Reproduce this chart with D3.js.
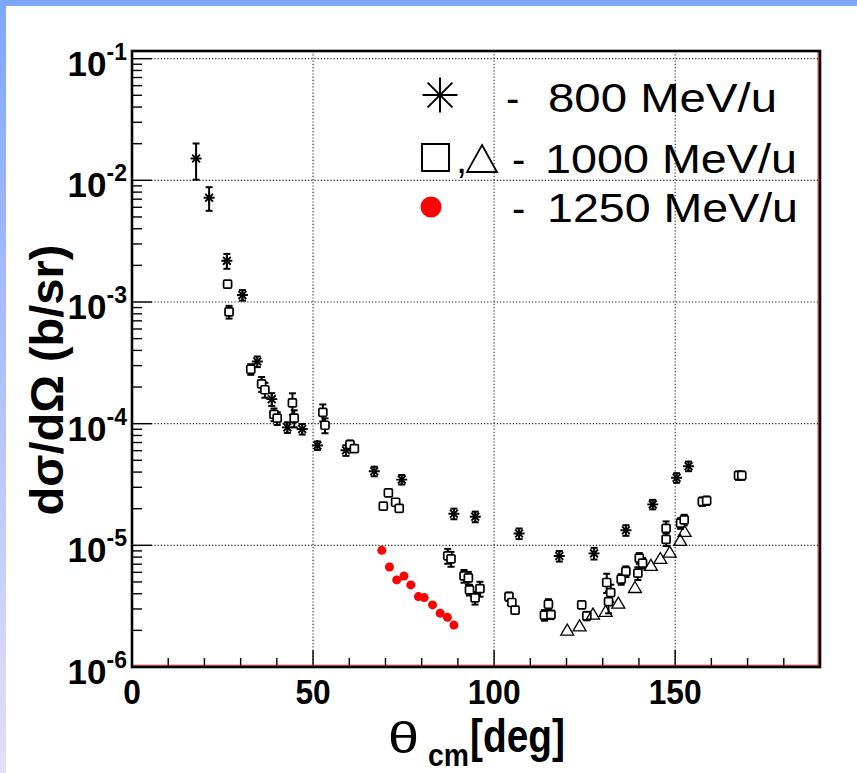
<!DOCTYPE html>
<html>
<head>
<meta charset="utf-8">
<script src="https://cdn.jsdelivr.net/npm/d3@7/dist/d3.min.js"></script>
<style>
  html, body { margin: 0; padding: 0; background: #fff; }
  svg { display: block; }
</style>
</head>
<body>
<svg id="chart" width="857" height="773"></svg>
<script>
// ---------------- data ----------------
const theta800 = [17.7, 21.3, 26.2, 30.5, 34.6, 38.6, 42.9, 47.0, 51.2, 59.1, 66.9, 74.5, 88.9, 94.8, 106.9, 118.0, 127.6, 136.4, 143.8, 150.4, 153.7];
const sigma800 = [1.51e-2, 7.2e-3, 2.18e-3, 1.14e-3, 3.24e-4, 1.59e-4, 9.33e-5, 9.04e-5, 6.61e-5, 6.04e-5, 4.06e-5, 3.47e-5, 1.82e-5, 1.72e-5, 1.25e-5, 8.17e-6, 8.59e-6, 1.33e-5, 2.17e-5, 3.59e-5, 4.47e-5];
const relErr800 = [0.33, 0.22, 0.14, 0.10, 0.10, 0.12, 0.10, 0.10, 0.08, 0.10, 0.09, 0.09, 0.10, 0.10, 0.10, 0.10, 0.11, 0.10, 0.09, 0.09, 0.09];

const thetaSq = [26.4, 26.8, 32.8, 35.8, 36.7, 39.2, 40.1, 44.3, 44.8, 52.7, 53.3, 60.2, 61.4, 69.4, 70.8, 72.8, 73.8, 87.2, 88.1, 91.7, 92.9, 93.2, 94.75, 96.1, 104.1, 104.9, 105.8, 113.9, 115.0, 115.7, 124.2, 125.6, 131.1, 131.6, 132.2, 135.1, 136.4, 139.7, 140.1, 141.0, 147.5, 147.5, 151.5, 152.5, 157.5, 158.7, 167.5, 168.4];
const sigmaSq = [1.40e-3, 8.3e-4, 2.80e-4, 2.12e-4, 1.90e-4, 1.19e-4, 1.11e-4, 1.48e-4, 1.11e-4, 1.24e-4, 9.7e-5, 6.73e-5, 6.24e-5, 2.10e-5, 2.70e-5, 2.26e-5, 2.01e-5, 8.2e-6, 7.75e-6, 5.6e-6, 5.4e-6, 4.3e-6, 3.7e-6, 4.4e-6, 3.79e-6, 3.39e-6, 2.93e-6, 2.67e-6, 3.28e-6, 2.69e-6, 3.24e-6, 2.63e-6, 4.95e-6, 3.45e-6, 4.09e-6, 5.27e-6, 6.1e-6, 5.9e-6, 7.85e-6, 7.15e-6, 1.38e-5, 1.12e-5, 1.52e-5, 1.62e-5, 2.29e-5, 2.33e-5, 3.75e-5, 3.75e-5];
const relErrSq = [0.06, 0.12, 0.10, 0.14, 0.14, 0.12, 0.12, 0.20, 0.16, 0.16, 0.14, 0.08, 0.06, 0.05, 0.05, 0.05, 0.05, 0.14, 0.14, 0.12, 0.12, 0.10, 0.12, 0.14, 0.08, 0.06, 0.06, 0.10, 0.10, 0.08, 0.06, 0.08, 0.18, 0.20, 0.16, 0.10, 0.10, 0.12, 0.10, 0.10, 0.14, 0.12, 0.10, 0.10, 0.08, 0.08, 0.08, 0.08];

const thetaTri = [120.2, 123.6, 127.3, 130.8, 134.3, 138.9, 143.3, 145.9, 148.5, 151.4, 152.6];
const sigmaTri = [2.01e-6, 2.18e-6, 2.72e-6, 2.86e-6, 3.35e-6, 4.5e-6, 6.85e-6, 7.8e-6, 8.8e-6, 1.10e-5, 1.30e-5];

const theta1250 = [69.0, 71.1, 73.1, 75.1, 77.0, 79.1, 80.7, 83.0, 85.1, 87.1, 88.9];
const sigma1250 = [9.1e-6, 6.64e-6, 5.2e-6, 5.6e-6, 4.73e-6, 3.79e-6, 3.72e-6, 3.24e-6, 2.77e-6, 2.56e-6, 2.21e-6];

const xTickValues = [0, 50, 100, 150];
const yDecadeExps = [-6, -5, -4, -3, -2, -1];
const legendTexts = ["800 MeV/u", "1000 MeV/u", "1250 MeV/u"];

// ---------------- layout ----------------
const svg = d3.select("#chart");
const L = 132, R = 820, T = 51, B = 667;
const x = d3.scaleLinear().domain([0, 190]).range([L, R]);
const y = d3.scaleLog().domain([1e-6, 0.1156]).range([B, T]);

// background frame strips
const defs = svg.append("defs");
const lg = defs.append("linearGradient").attr("id", "side").attr("x1", 0).attr("y1", 0).attr("x2", 0).attr("y2", 1);
lg.append("stop").attr("offset", "0%").attr("stop-color", "#7fa6ff");
lg.append("stop").attr("offset", "100%").attr("stop-color", "#e4def8");
svg.append("rect").attr("x", 0).attr("y", 0).attr("width", 857).attr("height", 773).attr("fill", "#fff");
svg.append("rect").attr("x", 0).attr("y", 0).attr("width", 857).attr("height", 6).attr("fill", "#7fa6ff");
svg.append("rect").attr("x", 0).attr("y", 0).attr("width", 6).attr("height", 773).attr("fill", "url(#side)");

// grid
const grid = svg.append("g").attr("stroke", "#000").attr("stroke-width", 1.1).attr("stroke-dasharray", "1.2,2").attr("opacity", 0.85);
grid.selectAll("line.gx").data([50, 100, 150]).join("line")
  .attr("x1", d => x(d)).attr("x2", d => x(d)).attr("y1", T).attr("y2", B);
grid.selectAll("line.gy").data([-5, -4, -3, -2, -1]).join("line")
  .attr("x1", L).attr("x2", R).attr("y1", d => y(Math.pow(10, d))).attr("y2", d => y(Math.pow(10, d)));

// y ticks (log minor)
const yTicks = [];
for (let e = -6; e <= -1; e++) {
  for (let m = 1; m <= 9; m++) {
    const v = m * Math.pow(10, e);
    if (v <= y.domain()[1]) yTicks.push({ v, major: m === 1 });
  }
}
svg.append("g").selectAll("line").data(yTicks).join("line")
  .attr("x1", L).attr("x2", d => L + (d.major ? 20 : 10))
  .attr("y1", d => y(d.v)).attr("y2", d => y(d.v))
  .attr("stroke", "#000").attr("stroke-width", 1.4);

// x ticks
const xt = d3.range(0, 191, 10);
svg.append("g").selectAll("line").data(xt).join("line")
  .attr("x1", d => x(d)).attr("x2", d => x(d))
  .attr("y1", B).attr("y2", d => B - (d % 50 === 0 ? 17 : 9))
  .attr("stroke", "#000").attr("stroke-width", 1.4);

// ---------------- markers ----------------
const gData = svg.append("g");

function errBars(g, xs, ys, rel, half, cap) {
  xs.forEach((t, i) => {
    const cx = x(t), cy = y(ys[i]);
    const yHi = y(ys[i] * (1 + rel[i])), yLo = y(ys[i] * (1 - rel[i]));
    if (cy - yHi > half) {
      g.append("line").attr("x1", cx).attr("x2", cx).attr("y1", cy - half).attr("y2", yHi).attr("stroke", "#000").attr("stroke-width", 2);
      g.append("line").attr("x1", cx - cap).attr("x2", cx + cap).attr("y1", yHi).attr("y2", yHi).attr("stroke", "#000").attr("stroke-width", 2);
    }
    if (yLo - cy > half) {
      g.append("line").attr("x1", cx).attr("x2", cx).attr("y1", cy + half).attr("y2", yLo).attr("stroke", "#000").attr("stroke-width", 2);
      g.append("line").attr("x1", cx - cap).attr("x2", cx + cap).attr("y1", yLo).attr("y2", yLo).attr("stroke", "#000").attr("stroke-width", 2);
    }
  });
}

function starPath(r) {
  const d = r * Math.SQRT1_2;
  return `M${-r},0L${r},0M0,${-r}L0,${r}M${-d},${-d}L${d},${d}M${-d},${d}L${d},${-d}`;
}

// 800 MeV/u asterisks
errBars(gData, theta800, sigma800, relErr800, 3, 3.5);
gData.selectAll("path.ast").data(theta800).join("path")
  .attr("class", "ast")
  .attr("transform", (d, i) => `translate(${x(d)},${y(sigma800[i])})`)
  .attr("d", starPath(5.5))
  .attr("fill", "none").attr("stroke", "#000").attr("stroke-width", 1.9);

// 1000 MeV/u squares
errBars(gData, thetaSq, sigmaSq, relErrSq, 4, 3.5);
gData.selectAll("rect.sq").data(thetaSq).join("rect")
  .attr("class", "sq")
  .attr("x", d => x(d) - 4).attr("y", (d, i) => y(sigmaSq[i]) - 4)
  .attr("width", 8).attr("height", 8).attr("rx", 1.2)
  .attr("fill", "#fff").attr("stroke", "#000").attr("stroke-width", 1.7);

// 1000 MeV/u triangles
gData.selectAll("path.tri").data(thetaTri).join("path")
  .attr("class", "tri")
  .attr("transform", (d, i) => `translate(${x(d)},${y(sigmaTri[i])})`)
  .attr("d", "M0,-6L6.5,5L-6.5,5Z")
  .attr("fill", "none").attr("stroke", "#000").attr("stroke-width", 1.3);

// 1250 MeV/u red dots
gData.selectAll("circle.red").data(theta1250).join("circle")
  .attr("class", "red")
  .attr("cx", d => x(d)).attr("cy", (d, i) => y(sigma1250[i]))
  .attr("r", 4.5).attr("fill", "#f00");

// ---------------- frame ----------------
svg.append("rect").attr("x", L).attr("y", T).attr("width", R - L).attr("height", B - T)
  .attr("fill", "none").attr("stroke", "#000").attr("stroke-width", 2.6);
svg.append("line").attr("x1", L + 1).attr("x2", R - 1.5).attr("y1", B - 1.8).attr("y2", B - 1.8).attr("stroke", "#b01010").attr("stroke-width", 1.1);
svg.append("line").attr("x1", R - 1.8).attr("x2", R - 1.8).attr("y1", T + 1).attr("y2", B - 1.5).attr("stroke", "#b01010").attr("stroke-width", 1.1);

// ---------------- axis labels ----------------
const font = "'Liberation Sans', Arial, Helvetica, sans-serif";

// y tick labels 10^n
const yl = svg.append("g").attr("font-family", font).attr("font-weight", "bold").attr("fill", "#000");
yDecadeExps.forEach(e => {
  const t = yl.append("text").attr("x", 127).attr("y", y(Math.pow(10, e)) + 17).attr("text-anchor", "end");
  t.append("tspan").attr("font-size", 35).text("10");
  t.append("tspan").attr("font-size", 23).attr("dy", -16).text(String(e));
});

// x tick labels
const xl = svg.append("g").attr("font-family", font).attr("font-weight", "bold").attr("fill", "#000");
xTickValues.forEach(v => {
  xl.append("text").attr("text-anchor", "middle").attr("font-size", 36)
    .attr("transform", `translate(${x(v)},704) scale(0.88,1)`).text(String(v));
});

// y title
svg.append("text").attr("font-family", font).attr("font-weight", "bold").attr("font-size", 47)
  .attr("text-anchor", "middle").attr("transform", "translate(63,380) rotate(-90)")
  .text("dσ/dΩ (b/sr)");

// x title
const xtG = svg.append("g").attr("font-family", font).attr("fill", "#000");
xtG.append("text").attr("x", 388).attr("y", 753).attr("font-size", 44).attr("textLength", 31).attr("lengthAdjust", "spacingAndGlyphs").text("θ");
xtG.append("text").attr("x", 428).attr("y", 766).attr("font-size", 31).attr("font-weight", "bold").attr("textLength", 41).attr("lengthAdjust", "spacingAndGlyphs").text("cm");
xtG.append("text").attr("x", 470).attr("y", 752).attr("font-size", 46).attr("font-weight", "bold").attr("textLength", 95).attr("lengthAdjust", "spacingAndGlyphs").text("[deg]");

// ---------------- legend ----------------
const lgG = svg.append("g").attr("font-family", font).attr("fill", "#000");
// row 1: asterisk
lgG.append("path").attr("transform", "translate(440,95)").attr("d", starPath(17.5))
  .attr("fill", "none").attr("stroke", "#000").attr("stroke-width", 2);
lgG.append("text").attr("x", 506).attr("y", 112).attr("font-size", 40).text("-");
lgG.append("text").attr("x", 548).attr("y", 112).attr("font-size", 40).attr("textLength", 229).attr("lengthAdjust", "spacingAndGlyphs").text(legendTexts[0]);
// row 2: square, triangle
lgG.append("rect").attr("x", 422).attr("y", 144).attr("width", 27).attr("height", 27).attr("fill", "none").attr("stroke", "#000").attr("stroke-width", 2);
lgG.append("text").attr("x", 456).attr("y", 173).attr("font-size", 40).text(",");
lgG.append("path").attr("d", "M482,145L497,172L467,172Z").attr("fill", "none").attr("stroke", "#000").attr("stroke-width", 1.8);
lgG.append("text").attr("x", 512).attr("y", 173).attr("font-size", 40).text("-");
lgG.append("text").attr("x", 545).attr("y", 173).attr("font-size", 40).attr("textLength", 252).attr("lengthAdjust", "spacingAndGlyphs").text(legendTexts[1]);
// row 3: red dot
lgG.append("circle").attr("cx", 431).attr("cy", 207).attr("r", 10.5).attr("fill", "#f00");
lgG.append("text").attr("x", 512).attr("y", 222).attr("font-size", 40).text("-");
lgG.append("text").attr("x", 547).attr("y", 222).attr("font-size", 40).attr("textLength", 251).attr("lengthAdjust", "spacingAndGlyphs").text(legendTexts[2]);
</script>
</body>
</html>
